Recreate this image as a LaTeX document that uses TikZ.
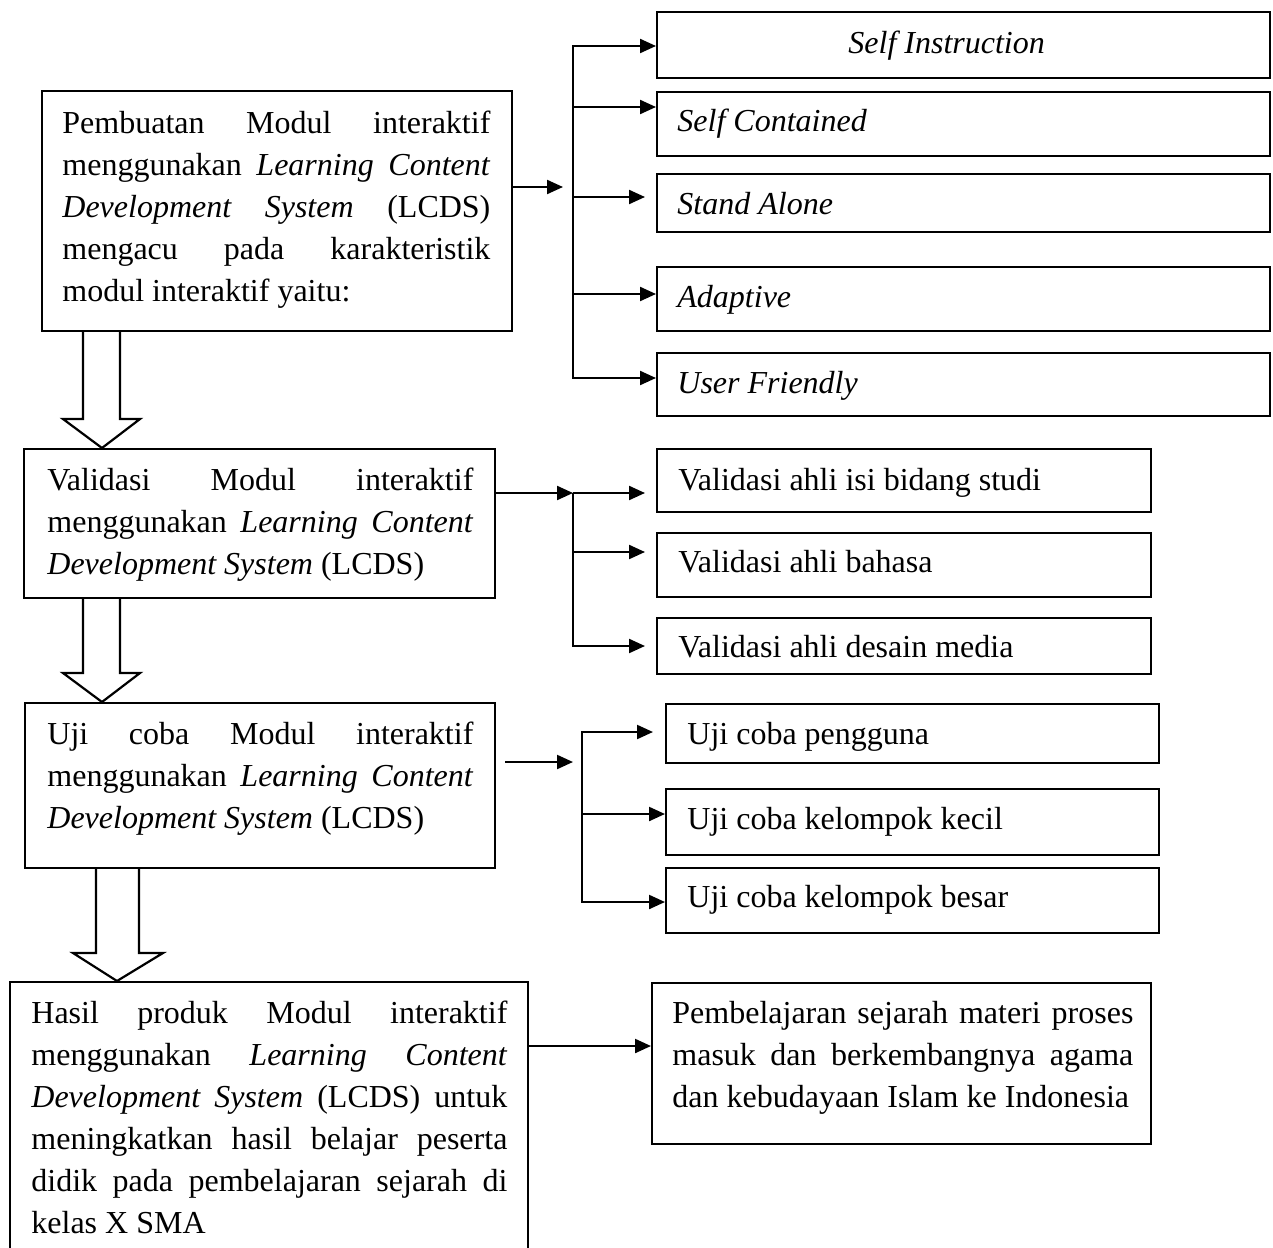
\documentclass[tikz,border=0pt]{standalone}
\usepackage{fontspec}
\setmainfont{Liberation Serif}
\usetikzlibrary{arrows.meta}
% one justified line of fixed width
\newcommand\jl[2]{\makebox[#1][s]{#2}}
\newcommand\firstline{\rule{0pt}{13pt}}

\begin{document}
\begin{tikzpicture}[x=0.5pt,y=-0.5pt,
  box/.style={draw, line width=1.1pt, anchor=north west, inner sep=0pt},
  txt/.style={anchor=north west, inner sep=0pt, align=left, font=\fontsize{16}{21}\selectfont},
  lbl/.style={anchor=base west, inner sep=0pt, font=\fontsize{16}{21}\selectfont},
  arr/.style={line width=1.1pt, line join=miter, -{Triangle[length=8pt,width=7pt]}},
  hollow/.style={draw, line width=1.1pt, line join=miter, fill=white}]

\useasboundingbox (0,0) rectangle (1273,1247);

% ---- main column ----
\node[box, minimum width=235pt, minimum height=120pt] (b1) at (41,90) {};
\node[box, minimum width=235.5pt, minimum height=74.5pt] (b2) at (23,448) {};
\node[box, minimum width=235pt, minimum height=82.5pt] (b3) at (24,702) {};
\node[box, minimum width=259pt, minimum height=137.5pt] (b4) at (9,981) {};
\node[box, minimum width=249.5pt, minimum height=80.5pt] (b5) at (651,982) {};

\node[txt] (t1) at (62,107) {\firstline\jl{214pt}{Pembuatan Modul interaktif}\\
  \jl{214pt}{menggunakan \textit{Learning Content}}\\
  \jl{214pt}{\textit{Development System} (LCDS)}\\
  \jl{214pt}{mengacu pada karakteristik}\\
  modul interaktif yaitu:};
\node[txt] (t2) at (47,464) {\firstline\jl{213pt}{Validasi Modul interaktif}\\
  \jl{213pt}{menggunakan \textit{Learning Content}}\\
  \textit{Development System} (LCDS)};
\node[txt] (t3) at (47,718) {\firstline\jl{213pt}{Uji coba Modul interaktif}\\
  \jl{213pt}{menggunakan \textit{Learning Content}}\\
  \textit{Development System} (LCDS)};
\node[txt] (t4) at (31,997) {\firstline\jl{238pt}{Hasil produk Modul interaktif}\\
  \jl{238pt}{menggunakan \textit{Learning Content}}\\
  \jl{238pt}{\textit{Development System} (LCDS) untuk}\\
  \jl{238pt}{meningkatkan hasil belajar peserta}\\
  \jl{238pt}{didik pada pembelajaran sejarah di}\\
  kelas X SMA};
\node[txt] (t5) at (672,997) {\firstline\jl{230.5pt}{Pembelajaran sejarah materi proses}\\
  \jl{230.5pt}{masuk dan berkembangnya agama}\\
  dan kebudayaan Islam ke Indonesia};

% ---- characteristics ----
\node[box, minimum width=306.5pt, minimum height=33pt] (s1) at (656,11) {};
\node[box, minimum width=306.5pt, minimum height=32pt] (s2) at (656,91) {};
\node[box, minimum width=306.5pt, minimum height=29pt] (s3) at (656,173) {};
\node[box, minimum width=306.5pt, minimum height=32pt] (s4) at (656,266) {};
\node[box, minimum width=306.5pt, minimum height=31.5pt] (s5) at (656,352) {};
\node[lbl] (ls1) at (848,54) {\textit{Self Instruction}};
\node[lbl] (ls2) at (677,132) {\textit{Self Contained}};
\node[lbl] (ls3) at (677,214) {\textit{Stand Alone}};
\node[lbl] (ls4) at (677,307) {\textit{Adaptive}};
\node[lbl] (ls5) at (677,393) {\textit{User Friendly}};

% ---- validation ----
\node[box, minimum width=247pt, minimum height=31.5pt] (v1) at (656,448) {};
\node[box, minimum width=247pt, minimum height=32pt] (v2) at (656,532) {};
\node[box, minimum width=247pt, minimum height=28pt] (v3) at (656,617) {};
\node[lbl] (lv1) at (678,490) {Validasi ahli isi bidang studi};
\node[lbl] (lv2) at (678,572) {Validasi ahli bahasa};
\node[lbl] (lv3) at (678,657) {Validasi ahli desain media};

% ---- trials ----
\node[box, minimum width=246.5pt, minimum height=29.5pt] (u1) at (665,703) {};
\node[box, minimum width=246.5pt, minimum height=33pt] (u2) at (665,788) {};
\node[box, minimum width=246.5pt, minimum height=32.5pt] (u3) at (665,867) {};
\node[lbl] (lu1) at (687,744) {Uji coba pengguna};
\node[lbl] (lu2) at (687,829) {Uji coba kelompok kecil};
\node[lbl] (lu3) at (687,907) {Uji coba kelompok besar};

% ---- branching to the characteristics ----
\coordinate (k1) at (563,187);
\coordinate (j1a) at (573,46);
\coordinate (j1b) at (573,107);
\coordinate (j1c) at (573,197);
\coordinate (j1d) at (573,294);
\coordinate (j1e) at (573,378);
\draw[arr] (b1.east |- k1) -- (k1);
\draw[arr] (j1e) -- (j1a) -- (s1.west |- j1a);
\draw[arr] (j1a) -- (j1e) -- (s5.west |- j1e);
\draw[arr] (j1b) -- (s2.west |- j1b);
\draw[arr] (j1c) -- ([xshift=-5.5pt]s3.west |- j1c);
\draw[arr] (j1d) -- (s4.west |- j1d);

% ---- branching to the validations ----
\coordinate (j2a) at (573,493);
\coordinate (j2b) at (573,552);
\coordinate (j2c) at (573,646);
\draw[arr] (b2.east |- j2a) -- (j2a);
\draw[arr] (j2a) -- ([xshift=-5.5pt]v1.west |- j2a);
\draw[arr] (j2b) -- ([xshift=-5.5pt]v2.west |- j2b);
\draw[arr] (j2a) -- (j2c) -- ([xshift=-5.5pt]v3.west |- j2c);

% ---- branching to the trials ----
\coordinate (k3) at (573,762);
\coordinate (j3a) at (582,732);
\coordinate (j3b) at (582,814);
\coordinate (j3c) at (582,902);
\draw[arr] ([xshift=4.5pt]b3.east |- k3) -- (k3);
\draw[arr] (j3c) -- (j3a) -- ([xshift=-6pt]u1.west |- j3a);
\draw[arr] (j3a) -- (j3c) -- (u3.west |- j3c);
\draw[arr] (j3b) -- (u2.west |- j3b);

% ---- result to learning ----
\coordinate (k4) at (0,1046);
\draw[arr] (b4.east |- k4) -- (b5.west |- k4);

% ---- hollow block arrows down the main column ----
\draw[hollow] (b1.south -| 83,0) -- (83,419) -- (63,419) -- (b2.north -| 102,0)
  -- (140,419) -- (120,419) -- (b1.south -| 120,0);
\draw[hollow] (b2.south -| 83,0) -- (83,673) -- (63,673) -- (b3.north -| 102,0)
  -- (140,673) -- (120,673) -- (b2.south -| 120,0);
\draw[hollow] (b3.south -| 96,0) -- (96,953) -- (73,953) -- (b4.north -| 117,0)
  -- (163,953) -- (139,953) -- (b3.south -| 139,0);
\end{tikzpicture}
\end{document}
